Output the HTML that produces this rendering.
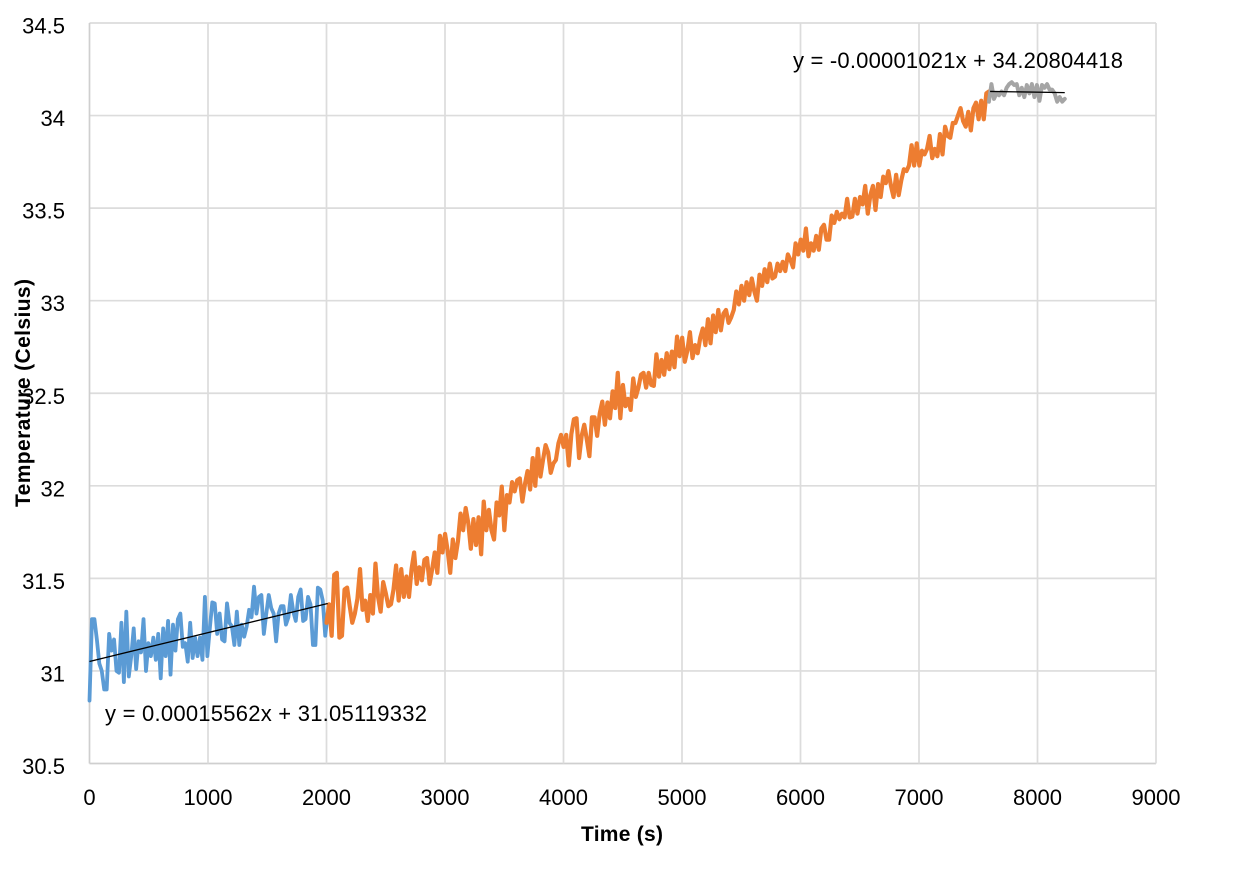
<!DOCTYPE html>
<html>
<head>
<meta charset="utf-8">
<title>Temperature vs Time</title>
<style>
html,body{margin:0;padding:0;background:#fff;width:1243px;height:881px;overflow:hidden}
svg{display:block}
text{font-family:"Liberation Sans",sans-serif;fill:#000}
</style>
</head>
<body>
<svg id="chart" xmlns="http://www.w3.org/2000/svg" width="1243" height="881" viewBox="0 0 1243 881">
<g id="grid"></g>
<g id="series"></g>
<g id="trends"></g>
<g id="ticks"></g>
<text x="105" y="721" font-size="22" textLength="322" lengthAdjust="spacing">y = 0.00015562x + 31.05119332</text>
<text x="793" y="68" font-size="22" textLength="330" lengthAdjust="spacing">y = -0.00001021x + 34.20804418</text>
<text x="581" y="841" font-size="21" font-weight="bold" textLength="82" lengthAdjust="spacing">Time (s)</text>
<text transform="translate(30,507) rotate(-90)" x="0" y="0" font-size="21" font-weight="bold" textLength="228" lengthAdjust="spacing">Temperature (Celsius)</text>
</svg>
<script>
var xTicks = [0,1000,2000,3000,4000,5000,6000,7000,8000,9000];
var yTicks = [30.5,31,31.5,32,32.5,33,33.5,34,34.5];
var xTickLabels = ["0","1000","2000","3000","4000","5000","6000","7000","8000","9000"];
var yTickLabels = ["30.5","31","31.5","32","32.5","33","33.5","34","34.5"];

var blueTimeSpan = [0,2010];
var blueTemps = [30.84,31.28,31.28,31.17,31.04,31.0,30.9,30.9,31.2,31.11,31.17,31.0,30.99,31.26,30.94,31.32,30.97,31.08,31.23,31.01,31.16,31.1,31.28,31.0,31.15,31.08,31.18,31.06,31.2,30.96,31.23,31.08,31.27,30.98,31.25,31.11,31.28,31.31,31.13,31.15,31.05,31.26,31.07,31.18,31.08,31.18,31.06,31.4,31.08,31.23,31.37,
31.365,31.2,31.31,31.17,31.16,31.365,31.26,31.24,31.14,31.32,31.14,31.25,31.185,31.24,31.33,31.29,31.455,31.31,31.4,31.41,31.2,31.31,31.41,31.34,31.31,31.16,31.31,31.35,31.35,31.25,31.29,31.41,31.32,31.27,31.4,31.44,31.27,31.28,31.4,31.36,31.14,31.14,31.45,31.44,31.38,31.19,31.31];

var orangeTimeSpan = [2000,7590];
var orangeTemps = [31.26,31.36,31.19,31.52,31.53,31.18,31.19,31.44,31.45,31.35,31.26,31.31,31.39,31.55,31.33,31.38,31.27,31.41,31.31,31.58,31.4,31.32,31.48,31.42,31.35,31.36,31.44,31.57,31.38,31.55,31.4,31.51,31.4,31.55,31.64,31.47,31.56,31.49,31.6,31.61,31.47,31.55,31.64,31.53,31.73,31.64,31.74,31.65,31.53,31.71,31.61,31.7,31.85,31.76,31.88,31.8,31.66,31.82,31.68,31.83,31.63,31.915,31.76,31.87,31.76,31.71,31.91,31.84,31.996,31.76,31.95,31.91,32.02,31.97,32.03,32.04,31.915,32.01,32.08,31.98,
32.15,32.0,32.2,32.05,32.14,32.22,
32.18,32.07,32.12,32.14,32.23,32.275,32.21,32.275,32.11,32.28,32.36,32.365,32.15,32.27,32.33,32.25,32.16,32.37,32.37,32.27,32.39,32.455,32.33,32.45,32.365,32.51,32.42,32.61,32.365,32.545,32.43,32.47,32.41,32.58,32.48,32.53,32.6,32.61,32.53,32.61,32.545,32.54,32.71,32.59,32.68,32.6,32.716,32.63,32.725,32.64,32.806,32.7,32.8,32.67,32.73,32.83,32.69,32.76,32.716,32.8,32.85,32.76,32.9,32.77,32.92,32.83,32.95,32.84,32.93,32.95,32.88,32.91,
32.95,33.05,32.98,33.08,33.0,33.1,33.03,33.12,33.05,33.0,33.14,33.08,33.17,33.1,33.2,33.12,
33.13,33.2,33.16,33.21,33.16,33.25,33.22,33.18,33.31,33.25,33.33,33.27,33.39,33.24,33.31,33.27,33.35,33.275,33.39,33.41,33.33,33.33,33.46,33.42,33.48,33.44,33.47,33.45,33.55,33.45,33.455,33.55,33.47,33.56,33.52,33.62,33.47,33.57,33.62,33.49,33.63,33.56,33.67,33.635,33.7,33.62,33.56,33.68,33.57,33.65,33.71,33.7,33.73,33.84,33.73,33.85,33.73,33.81,33.79,33.82,33.89,33.77,33.82,33.78,33.9,33.79,33.94,33.89,33.88,33.96,33.96,34.0,34.04,33.97,33.94,34.02,33.92,34.04,34.07,33.98,34.08,33.98,34.12,34.13];

var grayTimeSpan = [7590,8230];
var grayTemps = [34.075,34.17,34.09,34.12,34.11,34.13,34.11,34.15,34.17,34.18,34.165,34.17,34.11,34.15,34.1,34.165,34.12,34.17,34.1,34.165,34.08,34.165,34.15,34.17,34.14,34.14,34.12,34.075,34.1,34.075,34.09];

var blueTrendCoef = [0.00015562,31.05119332];
var blueTrendRange = [0,2010];
var grayTrendCoef = [-0.00001021,34.20804418];
var grayTrendRange = [7600,8230];

var NS = "http://www.w3.org/2000/svg";
var plotLeft = 89.5, plotRight = 1156, plotTop = 23, plotBottom = 763.5;
var xMin = 0, xMax = 9000, yMin = 30.5, yMax = 34.5;
function xScale(v){ return plotLeft + (v - xMin) / (xMax - xMin) * (plotRight - plotLeft); }
function yScale(v){ return plotBottom - (v - yMin) / (yMax - yMin) * (plotBottom - plotTop); }

function makeLine(parent, x1, y1, x2, y2, color, width){
  var el = document.createElementNS(NS, "line");
  el.setAttribute("x1", x1);
  el.setAttribute("y1", y1);
  el.setAttribute("x2", x2);
  el.setAttribute("y2", y2);
  el.setAttribute("stroke", color);
  el.setAttribute("stroke-width", width);
  parent.appendChild(el);
  return el;
}
function makeSeries(parent, span, temps, color, width){
  var el = document.createElementNS(NS, "polyline");
  var pts = [];
  for (var i = 0; i < temps.length; i++) {
    var t = span[0] + i * (span[1] - span[0]) / (temps.length - 1);
    pts.push(xScale(t).toFixed(2) + "," + yScale(temps[i]).toFixed(2));
  }
  el.setAttribute("points", pts.join(" "));
  el.setAttribute("fill", "none");
  el.setAttribute("stroke", color);
  el.setAttribute("stroke-width", width);
  el.setAttribute("stroke-linejoin", "round");
  el.setAttribute("stroke-linecap", "round");
  parent.appendChild(el);
  return el;
}
function makeLabel(parent, x, y, str, anchor){
  var el = document.createElementNS(NS, "text");
  el.setAttribute("x", x);
  el.setAttribute("y", y);
  el.setAttribute("font-size", "22");
  el.setAttribute("text-anchor", anchor);
  el.textContent = str;
  parent.appendChild(el);
  return el;
}

var grid = document.getElementById("grid");
var ticks = document.getElementById("ticks");
var seriesG = document.getElementById("series");
var trends = document.getElementById("trends");

yTicks.forEach(function(v, i){
  var isAxis = i === 0;
  var gridLine = makeLine(grid, plotLeft, yScale(v), plotRight, yScale(v), isAxis ? "#cfcfcf" : "#dcdcdc", 1.7);
  
  
  var label = makeLabel(ticks, 65, yScale(v) + 10.5, yTickLabels[i], "end");
  
  
});
xTicks.forEach(function(v, i){
  var isAxis = i === 0;
  var gridLine = makeLine(grid, xScale(v), plotTop, xScale(v), plotBottom, isAxis ? "#cfcfcf" : "#dcdcdc", 1.7);
  
  
  var label = makeLabel(ticks, xScale(v), 805, xTickLabels[i], "middle");
  
  
});

var blueLine = makeSeries(seriesG, blueTimeSpan, blueTemps, "#5b9bd5", 3.8);


var orangeLine = makeSeries(seriesG, orangeTimeSpan, orangeTemps, "#ed7d31", 4.2);


var grayLine = makeSeries(seriesG, grayTimeSpan, grayTemps, "#a5a5a5", 4);



function trendY(coef, t){ return coef[0] * t + coef[1]; }
var blueTrend = makeLine(trends, xScale(blueTrendRange[0]), yScale(trendY(blueTrendCoef, blueTrendRange[0])), xScale(blueTrendRange[1]), yScale(trendY(blueTrendCoef, blueTrendRange[1])), "#000", 1.3);


var grayTrend = makeLine(trends, xScale(grayTrendRange[0]), yScale(trendY(grayTrendCoef, grayTrendRange[0])), xScale(grayTrendRange[1]), yScale(trendY(grayTrendCoef, grayTrendRange[1])), "#000", 1.3);


</script>
</body>
</html>
